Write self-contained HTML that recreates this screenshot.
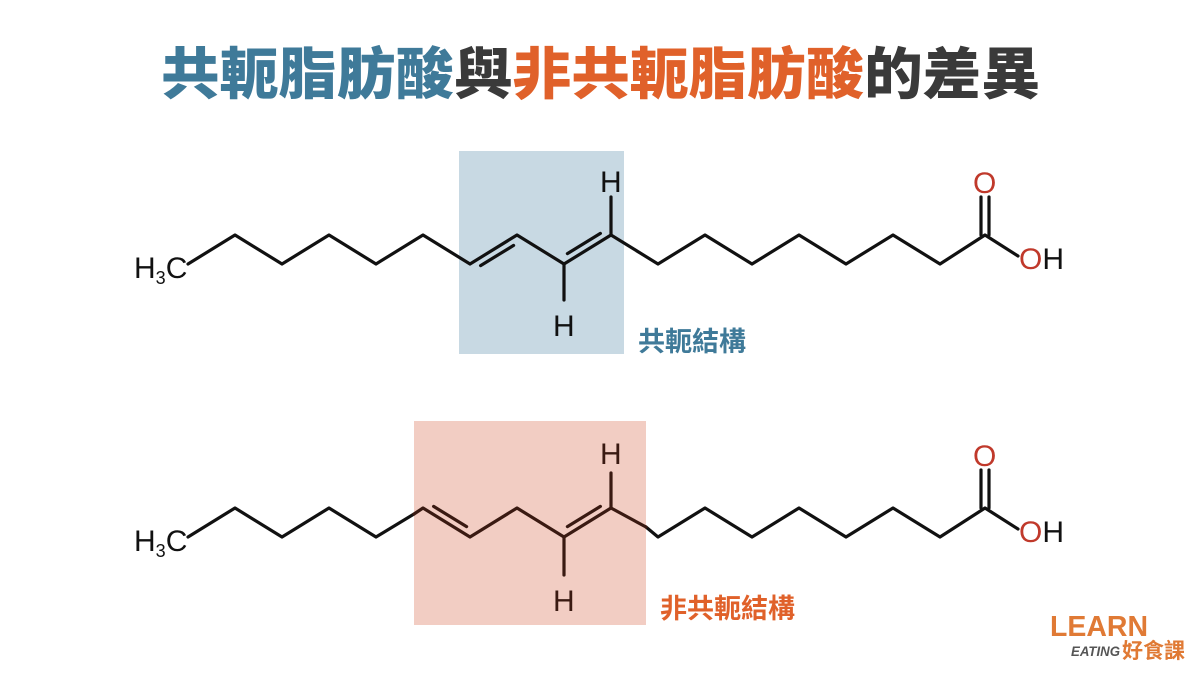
<!DOCTYPE html>
<html><head><meta charset="utf-8"><style>
html,body{margin:0;padding:0;background:#fff;}
body{width:1200px;height:675px;overflow:hidden;position:relative;}
</style></head><body>
<svg width="1200" height="675" viewBox="0 0 1200 675" xmlns="http://www.w3.org/2000/svg" style="position:absolute;left:0;top:0">
<rect width="1200" height="675" fill="#fff"/>
<text x="161" y="94" textLength="879" lengthAdjust="spacingAndGlyphs" font-family="'Noto Sans CJK TC','Noto Sans CJK SC',sans-serif" font-weight="900" font-size="56"><tspan fill="#3f7a99">共軛脂肪酸</tspan><tspan fill="#3a3a3a">與</tspan><tspan fill="#e0612a">非共軛脂肪酸</tspan><tspan fill="#3a3a3a">的差異</tspan></text>

<rect x="459" y="151" width="165" height="203" fill="#c8d9e3"/>
<rect x="414" y="421" width="232" height="204" fill="#f2cdc3"/>

<g fill="none" stroke="#111" stroke-width="3.2" stroke-linejoin="round" stroke-linecap="round">
<polyline points="188,264 235,235 282,264 329,235 376,264 423,235 470,264 517,235 564,264 611,235 658,264 705,235 752,264 799,235 846,264 893,235 940,264 985,235 1018,256"/>
<line x1="480.6" y1="265.6" x2="513.6" y2="245.4"/>
<line x1="567.4" y1="253.6" x2="600.4" y2="233.4"/>
<line x1="611" y1="235" x2="611" y2="197"/>
<line x1="564" y1="264" x2="564" y2="300"/>
<line x1="981" y1="235" x2="981" y2="197"/>
<line x1="989" y1="235" x2="989" y2="197"/>
</g>
<g fill="none" stroke="#111" stroke-width="3.2" stroke-linejoin="round" stroke-linecap="round">
<polyline points="188,537 235,508 282,537 329,508 376,537 414,514"/>
<polyline points="646,527 658,537 705,508 752,537 799,508 846,537 893,508 940,537 985,508 1018,529"/>
<line x1="981" y1="508" x2="981" y2="470"/>
<line x1="989" y1="508" x2="989" y2="470"/>
</g>
<g fill="none" stroke="#3a1a12" stroke-width="3.2" stroke-linejoin="round" stroke-linecap="round">
<polyline points="414,514 423,508 470,537 517,508 564,537 611,508 646,527"/>
<line x1="433.6" y1="506.4" x2="466.6" y2="526.6"/>
<line x1="567.4" y1="526.6" x2="600.4" y2="506.4"/>
<line x1="611" y1="508" x2="611" y2="473"/>
<line x1="564" y1="537" x2="564" y2="575"/>
</g>

<g font-family="'Liberation Sans',sans-serif" font-size="30" fill="#111">
<text x="134" y="278">H<tspan font-size="18" dy="6">3</tspan><tspan dy="-6">C</tspan></text>
<text x="600" y="192">H</text>
<text x="553" y="336">H</text>
<text x="1019" y="269"><tspan fill="#c0392b">O</tspan>H</text>
<text x="134" y="551">H<tspan font-size="18" dy="6">3</tspan><tspan dy="-6">C</tspan></text>
<text x="1019" y="542"><tspan fill="#c0392b">O</tspan>H</text>
</g>
<g font-family="'Liberation Sans',sans-serif" font-size="30" fill="#3a1a12">
<text x="600" y="464">H</text>
<text x="553" y="611">H</text>
</g>
<g font-family="'Liberation Sans',sans-serif" font-size="30" fill="#c0392b">
<text x="973" y="193">O</text>
<text x="973" y="466">O</text>
</g>

<text x="638" y="351" font-family="'Noto Sans CJK TC',sans-serif" font-weight="700" font-size="27" fill="#3f7a99">共軛結構</text>
<text x="660" y="618" font-family="'Noto Sans CJK TC',sans-serif" font-weight="700" font-size="27" fill="#e0612a">非共軛結構</text>

<text x="1050" y="636" font-family="'Liberation Sans',sans-serif" font-weight="700" font-size="29" fill="#e07a35" textLength="98" lengthAdjust="spacingAndGlyphs">LEARN</text>
<text x="1071" y="656" font-family="'Liberation Sans',sans-serif" font-weight="700" font-style="italic" font-size="14" fill="#555" textLength="49" lengthAdjust="spacingAndGlyphs">EATING</text>
<text x="1122" y="658" font-family="'Noto Sans CJK TC',sans-serif" font-weight="700" font-size="21" fill="#e07a35">好食課</text>
</svg>
</body></html>
